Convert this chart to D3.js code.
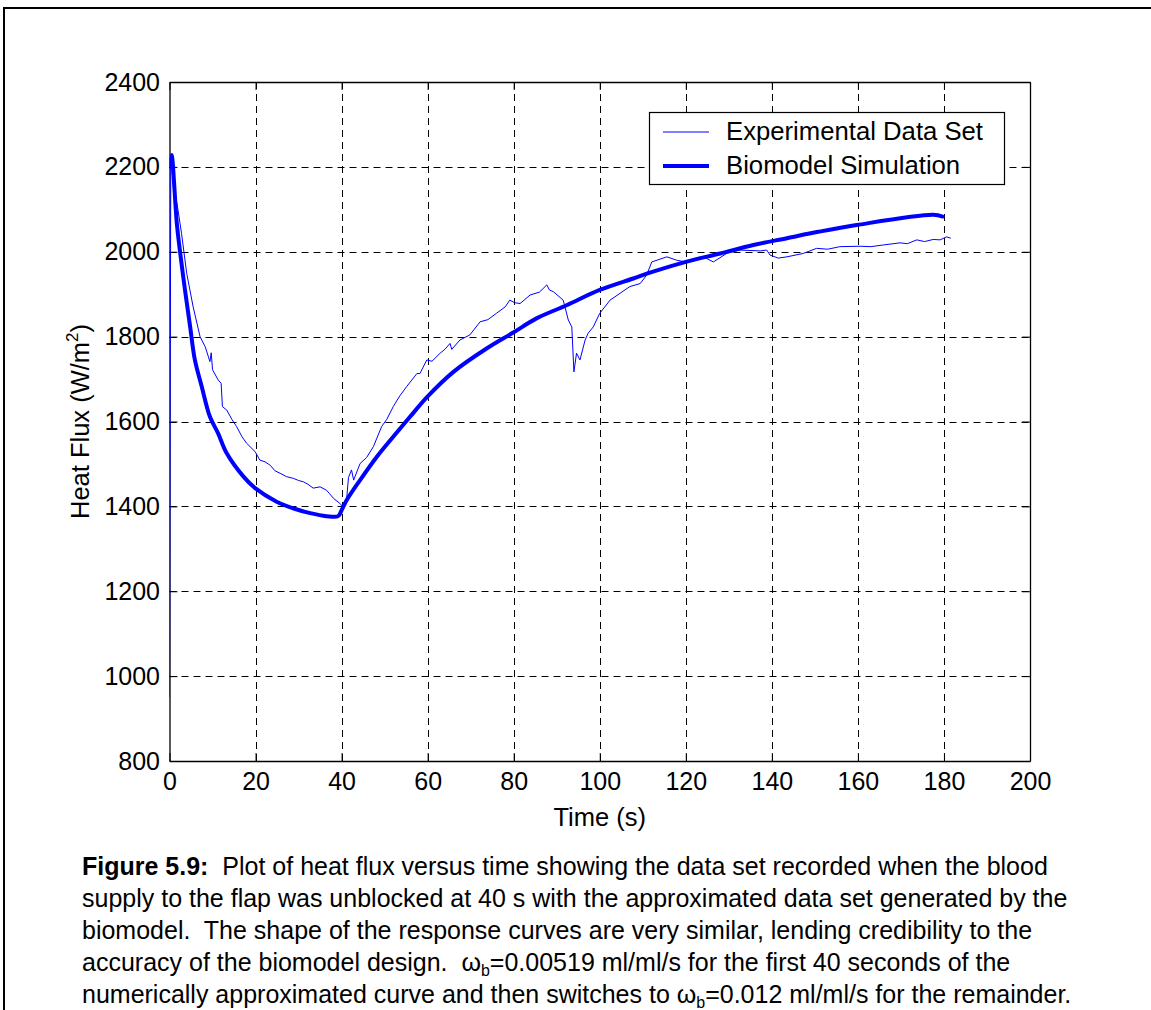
<!DOCTYPE html>
<html><head><meta charset="utf-8">
<script src="https://cdn.jsdelivr.net/npm/d3@7/dist/d3.min.js"></script>
<style>
html,body{margin:0;padding:0;background:#fff;}
text{font-family:"Liberation Sans",Arial,sans-serif;fill:#000;}
</style></head>
<body>
<svg id="chart" width="1151" height="1010"></svg>
<script>
// ---- data ----
const xTicks = [0,20,40,60,80,100,120,140,160,180,200];
const yTicks = [800,1000,1200,1400,1600,1800,2000,2200,2400];
const seriesNames = ["Experimental Data Set","Biomodel Simulation"];

const simT = [0.2,0.5,1.7,2.4,3.6,4.8,5.9,7.5,9.4,11.3,13.3,17.2,19.9,24.9,28.9,32.7,36.5,39.2,40,41.2,44.3,48.2,52,55.9,59.9,66,73.7,79.8,85.3,92.3,100,107.8,112.4,120,128,135.7,143.5,150.8,159.7,177.5,179.7];
const simV = [2200,2228,2067,2004,1910,1823,1745,1682,1611,1572,1525,1470,1443,1411,1395,1384,1377,1377,1391,1415,1462,1517,1564,1611,1658,1717,1772,1809,1843,1874,1910,1937,1953,1976,1996,2016,2032,2047,2063,2087,2083];

const expT = [0,0.3,0.9,1.8,2.8,4.0,5.5,7.1,8.3,9.4,9.7,10.0,11.3,12.0,12.3,13.3,14.5,15.6,16.8,17.9,19.9,21,22.2,23.4,24.5,25.7,27.2,28.8,30.0,31.1,32.2,33.4,35.0,36.5,37.2,38.1,39.6,40.2,41.2,41.6,42.3,42.8,44.3,45.8,47.4,49.3,50.5,52,53.5,55.1,57.5,58.2,59.8,61.0,62.9,64.0,65.2,65.6,67.5,69.8,72.2,74.0,76,78.0,79.1,80.2,81.5,83.8,86.0,87.7,88.3,89.2,91.5,92.7,93.5,94,94.6,95.4,96.6,97.3,98.5,100,102.4,104.7,107,109.4,110.9,112.1,115.6,117.9,120,122.0,124.1,126.4,129.5,132.6,137.3,138.8,139.6,141.5,143.5,147.3,150.4,153.0,155.8,160.5,163.0,165.9,169.8,171.5,173.7,175.5,177.5,179.1,180.6,181.6];
const expV = [950,2225,2153,2110,2043,1949,1870,1800,1776,1741,1762,1722,1698,1690,1635,1627,1605,1588,1565,1549,1529,1509,1505,1497,1484,1478,1470,1466,1461,1458,1452,1443,1446,1438,1430,1419,1407,1400,1420,1468,1486,1462,1501,1515,1541,1588,1605,1635,1660,1682,1713,1713,1745,1742,1761,1770,1784,1770,1792,1804,1835,1840,1855,1870,1886,1880,1878,1898,1905,1922,1910,1906,1886,1839,1823,1717,1761,1745,1792,1808,1823,1855,1886,1902,1918,1925,1945,1976,1988,1980,1976,1984,1988,1976,1996,2004,2002,2004,1992,1985,1988,1996,2008,2006,2012,2013,2012,2016,2021,2019,2028,2024,2029,2028,2035,2032];

// ---- layout ----
const svg = d3.select("#chart");
const L = 169.5, R = 1030, T = 82, B = 761;
const x = d3.scaleLinear().domain([0,200]).range([L,R]);
const y = d3.scaleLinear().domain([800,2400]).range([B,T]);
const blue = "#0000ff";
const FONT = '"Liberation Sans",Arial,sans-serif';

// outer frame
svg.append("rect").attr("x",4).attr("y",8).attr("width",1300).attr("height",1200)
  .attr("fill","none").attr("stroke","#000").attr("stroke-width",2);

// plot background
svg.append("rect").attr("x",L).attr("y",T).attr("width",R-L).attr("height",B-T).attr("fill","#fff");

// grid
const grid = svg.append("g").attr("stroke","#000").attr("stroke-width",1).attr("stroke-dasharray","7,5");
grid.selectAll("line.gx").data(xTicks.slice(1,-1)).join("line")
  .attr("x1",d=>Math.round(x(d))+0.5).attr("x2",d=>Math.round(x(d))+0.5).attr("y1",T).attr("y2",B);
grid.selectAll("line.gy").data(yTicks.slice(1,-1)).join("line")
  .attr("y1",d=>Math.round(y(d))+0.5).attr("y2",d=>Math.round(y(d))+0.5).attr("x1",L).attr("x2",R);

// axes
const fs = 25;
const fmt = d3.format("d");
const axB = svg.append("g").attr("transform",`translate(0,${B})`)
  .call(d3.axisBottom(x).tickValues(xTicks).tickFormat(fmt).tickSize(-8).tickPadding(11).tickSizeOuter(0));
const axL = svg.append("g").attr("transform",`translate(${L},0)`)
  .call(d3.axisLeft(y).tickValues(yTicks).tickFormat(fmt).tickSize(-8).tickPadding(9.5).tickSizeOuter(0));
const axT = svg.append("g").attr("transform",`translate(0,${T})`)
  .call(d3.axisTop(x).tickValues(xTicks).tickSize(-8).tickFormat("").tickSizeOuter(0));
const axR = svg.append("g").attr("transform",`translate(${R},0)`)
  .call(d3.axisRight(y).tickValues(yTicks).tickSize(-8).tickFormat("").tickSizeOuter(0));
[axB,axL,axT,axR].forEach(g=>{
  g.select(".domain").attr("stroke","#000").attr("stroke-width",1.3);
  g.selectAll(".tick line").attr("stroke","#000");
  g.selectAll("text").attr("font-size",fs).attr("font-family",FONT).attr("fill","#000");
});

// clip
svg.append("clipPath").attr("id","clip").append("rect").attr("x",L).attr("y",T).attr("width",R-L).attr("height",B-T);

const expData = expT.map((t,i)=>[t,expV[i]]);
const simData = simT.map((t,i)=>[t,simV[i]]);
const lineExp = d3.line().x(d=>x(d[0])).y(d=>y(d[1]));
const lineSim = d3.line().x(d=>x(d[0])).y(d=>y(d[1])).curve(d3.curveCatmullRom.alpha(0.5));

const plot = svg.append("g").attr("clip-path","url(#clip)");
plot.append("path").datum(expData).attr("d",lineExp).attr("fill","none")
  .attr("stroke",blue).attr("stroke-width",1);
plot.append("path").datum(simData).attr("d",lineSim).attr("fill","none")
  .attr("stroke",blue).attr("stroke-width",4).attr("stroke-linejoin","round").attr("stroke-linecap","round");

// legend
const lg = svg.append("g");
lg.append("rect").attr("x",649.5).attr("y",112.5).attr("width",355).attr("height",72)
  .attr("fill","#fff").attr("stroke","#000").attr("stroke-width",1.2);
lg.append("line").attr("x1",663).attr("x2",709).attr("y1",132).attr("y2",132).attr("stroke",blue).attr("stroke-width",1);
lg.append("line").attr("x1",663).attr("x2",709).attr("y1",166).attr("y2",166).attr("stroke",blue).attr("stroke-width",4);
lg.append("text").attr("x",726).attr("y",140).attr("font-size",25.7).text(seriesNames[0]);
lg.append("text").attr("x",726).attr("y",174).attr("font-size",25.7).text(seriesNames[1]);

// axis titles
svg.append("text").attr("x",(L+R)/2).attr("y",826).attr("text-anchor","middle").attr("font-size",25.5).text("Time (s)");
const yl = svg.append("text").attr("transform",`translate(89,${(T+B)/2}) rotate(-90)`).attr("text-anchor","middle").attr("font-size",25.5);
yl.append("tspan").text("Heat Flux (W/m");
yl.append("tspan").attr("font-size",17).attr("dy",-11).text("2");
yl.append("tspan").attr("dy",11).text(")");

// caption
const cap = svg.append("g").attr("font-size",25);
const c1 = cap.append("text").attr("x",82).attr("y",875);
c1.append("tspan").attr("font-weight","bold").text("Figure 5.9:");
c1.append("tspan").text("\u00a0 Plot of heat flux versus time showing the data set recorded when the blood");
cap.append("text").attr("x",82).attr("y",907).text("supply to the flap was unblocked at 40 s with the approximated data set generated by the");
cap.append("text").attr("x",82).attr("y",939).text("biomodel.\u00a0 The shape of the response curves are very similar, lending credibility to the");
const c4 = cap.append("text").attr("x",82).attr("y",971);
c4.append("tspan").text("accuracy of the biomodel design.\u00a0 \u03c9");
c4.append("tspan").attr("font-size",16).attr("dy",5).text("b");
c4.append("tspan").attr("dy",-5).text("=0.00519 ml/ml/s for the first 40 seconds of the");
const c5 = cap.append("text").attr("x",82).attr("y",1003);
c5.append("tspan").text("numerically approximated curve and then switches to \u03c9");
c5.append("tspan").attr("font-size",16).attr("dy",5).text("b");
c5.append("tspan").attr("dy",-5).text("=0.012 ml/ml/s for the remainder.");
</script>
</body></html>
